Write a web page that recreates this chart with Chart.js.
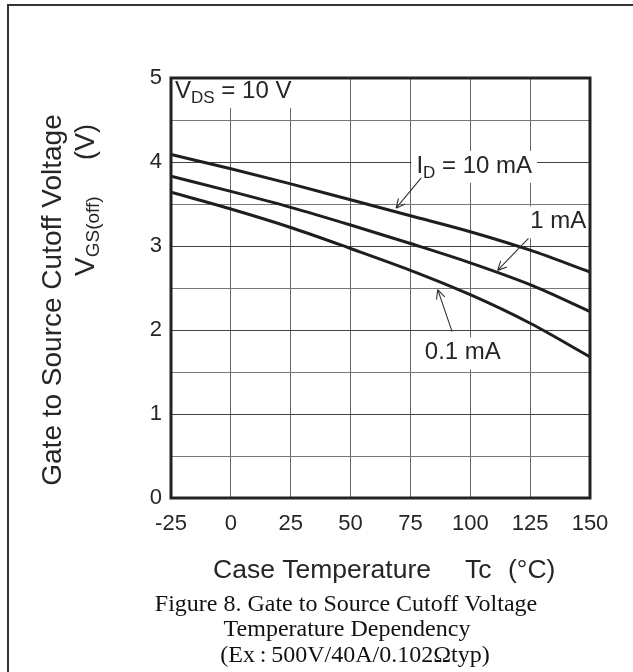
<!DOCTYPE html>
<html>
<head>
<meta charset="utf-8">
<script src="https://cdn.jsdelivr.net/npm/chart.js@4.4.1/dist/chart.umd.min.js"></script>
<style>
html, body { margin: 0; padding: 0; background: #fff; }
#wrap { position: relative; width: 633px; height: 672px; overflow: hidden; }
#frame { position: absolute; left: 7px; top: 4px; width: 700px; height: 800px; border: 2px solid #333; }
canvas { position: absolute; left: 0; top: 0; }
</style>
</head>
<body>
<div id="wrap"><div id="frame"></div><canvas id="c" width="633" height="672"></canvas></div>
<script>
// Case temperature (°C) and gate threshold for each drain current
const tempC   = [-25, 0, 25, 50, 75, 100, 125, 150];
const id10mA  = [4.09, 3.92, 3.74, 3.55, 3.36, 3.17, 2.95, 2.69];
const id1mA   = [3.83, 3.65, 3.46, 3.25, 3.03, 2.80, 2.54, 2.22];
const id01mA  = [3.64, 3.44, 3.22, 2.97, 2.71, 2.42, 2.08, 1.68];

const xTicks = [-25, 0, 25, 50, 75, 100, 125, 150];
const yTicks = [0, 1, 2, 3, 4, 5];

const ink = '#262626';
const sans = "'Liberation Sans', Arial, sans-serif";
const serif = "'Liberation Serif', 'Times New Roman', serif";

// Labels inside the plot, anchored in data units (T, V)
const notes = [
    { t: -23.3, v: 4.76, parts: [['V', 24, 0], ['DS', 17, 5], [' = 10 V', 24, 0]] },
    { t: 77.5,  v: 3.87, parts: [['I', 24, 0], ['D', 17, 5], [' = 10 mA', 24, 0]] },
    { t: 125.0, v: 3.21, parts: [['1 mA', 24, 0]] },
    { t: 81.0,  v: 1.65, parts: [['0.1 mA', 24, 0]] }
];

// Leader arrows: from (t1, v1) to tip (t2, v2)
const arrows = [
    [79.5, 3.81, 69.0, 3.45],
    [124.3, 3.09, 111.4, 2.71],
    [92.4, 1.98, 86.4, 2.48]
];

const toPoints = (ys) => tempC.map((t, i) => ({ x: t, y: ys[i] }));

const drawParts = (ctx, x, y, parts, font) => {
    let cx = x;
    parts.forEach(([txt, size, dy]) => {
        ctx.font = size + 'px ' + font;
        ctx.fillText(txt, cx, y + dy);
        cx += ctx.measureText(txt).width;
    });
    return cx - x;
}

const partsWidth = (ctx, parts, font) => {
    let w = 0;
    parts.forEach(([txt, size]) => {
        ctx.font = size + 'px ' + font;
        w += ctx.measureText(txt).width;
    });
    return w;
}

const decorPlugin = {
    id: 'decor',
    beforeDatasetsDraw(chart) {
        const ctx = chart.ctx;
        const xs = chart.scales.x, ys = chart.scales.y;
        ctx.save();
        ctx.fillStyle = '#fff';
        notes.forEach(n => {
            const px = xs.getPixelForValue(n.t), py = ys.getPixelForValue(n.v);
            const w = partsWidth(ctx, n.parts, sans);
            ctx.fillRect(px - 5, py - 22, w + 10, 32);
        });
        ctx.restore();
    },
    afterDatasetsDraw(chart) {
        const ctx = chart.ctx;
        const a = chart.chartArea;
        const xs = chart.scales.x, ys = chart.scales.y;
        ctx.save();
        // plot frame
        ctx.strokeStyle = '#222';
        ctx.lineWidth = 3;
        ctx.strokeRect(a.left, a.top, a.right - a.left, a.bottom - a.top);

        // arrows
        ctx.strokeStyle = '#333';
        ctx.lineWidth = 1.1;
        arrows.forEach(([t1, v1, t2, v2]) => {
            const x1 = xs.getPixelForValue(t1), y1 = ys.getPixelForValue(v1);
            const x2 = xs.getPixelForValue(t2), y2 = ys.getPixelForValue(v2);
            const ang = Math.atan2(y2 - y1, x2 - x1);
            ctx.beginPath();
            ctx.moveTo(x1, y1);
            ctx.lineTo(x2, y2);
            [0.45, -0.45].forEach(d => {
                ctx.moveTo(x2, y2);
                ctx.lineTo(x2 - 10 * Math.cos(ang + d), y2 - 10 * Math.sin(ang + d));
            });
            ctx.stroke();
        });

        // text notes
        ctx.fillStyle = ink;
        ctx.textBaseline = 'alphabetic';
        ctx.textAlign = 'left';
        notes.forEach(n => {
            drawParts(ctx, xs.getPixelForValue(n.t), ys.getPixelForValue(n.v), n.parts, sans);
        });
        ctx.restore();
    },
    afterDraw(chart) {
        const ctx = chart.ctx;
        ctx.save();
        ctx.fillStyle = ink;
        ctx.textBaseline = 'alphabetic';

        // y axis titles (rotated)
        ctx.save();
        ctx.translate(61, 300);
        ctx.rotate(-Math.PI / 2);
        ctx.textAlign = 'center';
        ctx.font = '28px ' + sans;
        ctx.fillText('Gate to Source Cutoff Voltage', 0, 0);
        ctx.restore();

        ctx.save();
        ctx.translate(94, 276);
        ctx.rotate(-Math.PI / 2);
        ctx.textAlign = 'left';
        drawParts(ctx, 0, 0, [['V', 28, 0], ['GS(off)', 19, 5]], sans);
        ctx.font = '27px ' + sans;
        ctx.fillText('(V)', 116, 0);
        ctx.restore();

        // x axis title
        ctx.textAlign = 'left';
        ctx.font = '26.5px ' + sans;
        ctx.fillText('Case Temperature', 213, 578);
        ctx.fillText('Tc', 465, 578);
        ctx.fillText('(°C)', 508, 578);

        // caption
        ctx.textAlign = 'center';
        ctx.fillStyle = '#111';
        ctx.font = '24px ' + serif;
        ctx.fillText('Figure 8. Gate to Source Cutoff Voltage', 346, 611);
        ctx.fillText('Temperature Dependency', 347, 636);
        ctx.fillText('(Ex\u2009:\u2009500V/40A/0.102\u03A9typ)', 355, 662);
        ctx.restore();
    }
};

const lineStyle = {
    borderColor: '#1e1e1e', borderWidth: 3, pointRadius: 0,
    cubicInterpolationMode: 'monotone', fill: false
};

const createChart = () => {
    const ctx = document.getElementById('c').getContext('2d');
    new Chart(ctx, {
        type: 'line',
        data: {
            datasets: [
                { label: 'ID = 10 mA', data: toPoints(id10mA), ...lineStyle },
                { label: '1 mA', data: toPoints(id1mA), ...lineStyle },
                { label: '0.1 mA', data: toPoints(id01mA), ...lineStyle }
            ]
        },
        options: {
            responsive: false,
            animation: false,
            layout: { padding: { top: 78, right: 43, left: 0, bottom: 0 } },
            plugins: { legend: { display: false }, tooltip: { enabled: false } },
            scales: {
                x: {
                    type: 'linear',
                    min: -25,
                    max: 150,
                    afterFit: (s) => { s.height = 174; },
                    afterBuildTicks: (s) => { s.ticks = xTicks.map(v => ({ value: v })); },
                    grid: { color: '#666', lineWidth: 1, drawTicks: false },
                    border: { display: false },
                    ticks: { color: ink, font: { family: sans, size: 22 }, padding: 13, maxRotation: 0 }
                },
                y: {
                    min: 0,
                    max: 5,
                    afterFit: (s) => { s.width = 171; },
                    ticks: {
                        stepSize: 0.5,
                        color: ink,
                        font: { family: sans, size: 22 },
                        padding: 9,
                        callback: (v) => yTicks.includes(v) ? String(v) : ''
                    },
                    grid: {
                        color: (c) => Number.isInteger(c.tick.value) ? '#444' : '#777',
                        lineWidth: 1,
                        drawTicks: false
                    },
                    border: { display: false }
                }
            }
        },
        plugins: [decorPlugin]
    });
}

createChart();
</script>
</body>
</html>
